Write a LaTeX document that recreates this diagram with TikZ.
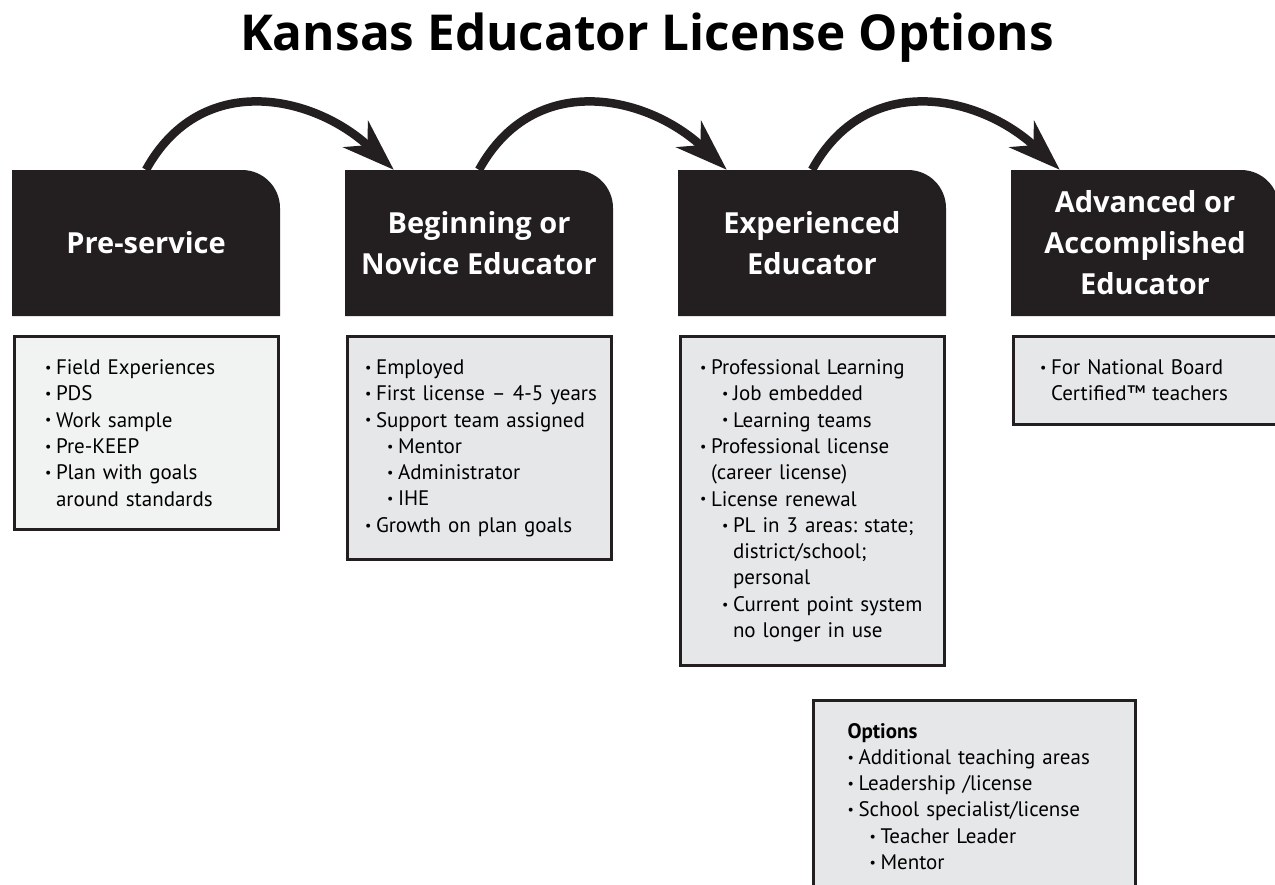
\documentclass[tikz,border=0pt]{standalone}
\usepackage{fontspec}
\setmainfont{PT Sans}
\newfontfamily\headfont{Open Sans}
\usetikzlibrary{arrows.meta,positioning}
\definecolor{ink}{HTML}{231F20}
\definecolor{paleA}{HTML}{F1F2F2}
\definecolor{paleB}{HTML}{E6E7E8}
\newcommand{\itm}{\makebox[11pt][l]{\raisebox{2.2pt}{\fontsize{14}{14}\selectfont\textbullet}}}
\newcommand{\subitm}{\hspace*{22pt}\itm}
\frenchspacing

\begin{document}
\begin{tikzpicture}[x=1pt,y=-1pt,>={Stealth[length=52pt,width=36pt,inset=16pt]},node distance=333pt,
    head node/.style={fill=white,minimum width=268pt,minimum height=146pt,inner sep=0pt,text=white,align=center,
      font=\headfont\fontsize{29}{41}\selectfont\bfseries,
      path picture={\fill[ink] (path picture bounding box.south west) -- (path picture bounding box.north west)
        -- ([xshift=-38pt]path picture bounding box.north east) arc[start angle=90,end angle=0,radius=38pt]
        -- (path picture bounding box.south east) -- cycle;}},
    list node/.style={draw=ink,line width=3pt,fill=paleB,inner xsep=4pt,inner ysep=23pt,text width=256pt,align=left,
      font=\fontsize{21}{26.3}\selectfont},
    arc/.style={->,draw=ink,line width=8.5pt}]
  \useasboundingbox (0,0) rectangle (1275,884);
  \node[font=\headfont\fontsize{49.5}{60}\selectfont\bfseries] (title) at (647,38) {Kansas Educator License Options};
  \node[head node] (pre) at (146,243) {Pre-service};
  \node[head node, right of=pre] (novice) {Beginning or\\Novice Educator};
  \node[head node, right of=novice] (exp) {Experienced\\Educator};
  \node[head node, right of=exp] (adv) {Advanced or\\Accomplished\\Educator};
  \node[list node, fill=paleA, below=19pt of pre] (prelist) {\leftskip=27pt
    \itm Field Experiences\\ \itm PDS\\ \itm Work sample\\ \itm Pre-KEEP\\
    \itm Plan with goals\\ \hspace*{11pt}around standards\par};
  \node[list node, below=19pt of novice] (novicelist) {\leftskip=14pt
    \itm Employed\\ \itm First license – 4-5 years\\ \itm Support team assigned\\
    \subitm Mentor\\ \subitm Administrator\\ \subitm IHE\\ \itm Growth on plan goals\par};
  \node[list node, below=19pt of exp] (explist) {\leftskip=16pt
    \itm Professional Learning\\ \subitm Job embedded\\ \subitm Learning teams\\
    \itm Professional license\\ \hspace*{11pt}(career license)\\ \itm License renewal\\
    \subitm PL in 3 areas: state;\\ \hspace*{33pt}district/school;\\ \hspace*{33pt}personal\\
    \subitm Current point system\\ \hspace*{33pt}no longer in use\par};
  \node[list node, below=19pt of adv] (advlist) {\leftskip=23pt
    \itm For National Board\\ \hspace*{11pt}Certified™ teachers\par};
  \node[list node, text width=314pt, below right=32pt and 0pt of explist.south] (opt) {\leftskip=30pt
    \textbf{Options}\\ \itm Additional teaching areas\\ \itm Leadership /license\\
    \itm School specialist/license\\ \subitm Teacher Leader\\ \subitm Mentor\par};
  \draw[arc] (pre.north) .. controls +(55,-100) and +(-80,-75) .. ([xshift=49pt]novice.north west);
  \draw[arc] (novice.north) .. controls +(55,-100) and +(-80,-75) .. ([xshift=49pt]exp.north west);
  \draw[arc] (exp.north) .. controls +(55,-100) and +(-80,-75) .. ([xshift=49pt]adv.north west);
\end{tikzpicture}
\end{document}
